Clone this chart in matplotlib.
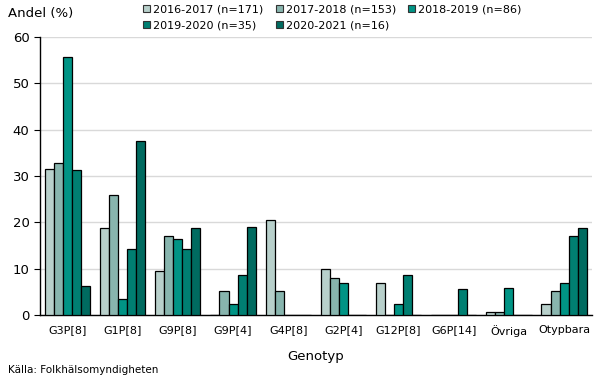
import numpy as np
import matplotlib.pyplot as plt
from matplotlib.patches import Patch

genotyper = ['G3P[8]', 'G1P[8]', 'G9P[8]', 'G9P[4]', 'G4P[8]', 'G2P[4]',
             'G12P[8]', 'G6P[14]', 'Övriga', 'Otypbara']

sasonger = ['2016-2017 (n=171)', '2017-2018 (n=153)', '2018-2019 (n=86)',
            '2019-2020 (n=35)', '2020-2021 (n=16)']

v2016 = [31.6, 18.7, 9.4, 0, 20.4, 9.9, 7.0, 0, 0.6, 2.3]
v2017 = [32.8, 26.0, 17.0, 5.2, 5.2, 7.9, 0, 0, 0.7, 5.2]
v2018 = [55.8, 3.5, 16.3, 2.3, 0, 7.0, 2.3, 0, 5.9, 7.0]
v2019 = [31.4, 14.3, 14.3, 8.6, 0, 0, 8.6, 5.7, 0, 17.1]
v2020 = [6.2, 37.5, 18.8, 19.0, 0, 0, 0, 0, 0, 18.8]

farger = ['#b8d0cb', '#88b5ae', '#009485', '#007f72', '#006b60']

fig = plt.figure(figsize=(6.05, 3.79), dpi=100)
ax = fig.add_axes([0.066, 0.169, 0.912, 0.733])

x = np.arange(len(genotyper))
w = 0.164
serier = [v2016, v2017, v2018, v2019, v2020]
for i, (vals, c) in enumerate(zip(serier, farger)):
    ax.bar(x + (i - 2) * w, vals, width=w, color=c, edgecolor='black',
           linewidth=0.9, zorder=3)

ax.set_xlim(-0.5, len(genotyper) - 0.5)
ax.set_ylim(0, 60)
ax.set_yticks(range(0, 61, 10))
ax.yaxis.grid(True, color='#d9d9d9', linewidth=1, zorder=0)
ax.set_xticks(x)
ax.set_xticklabels(genotyper)
ax.tick_params(axis='x', length=0, labelsize=8, pad=7)
ax.tick_params(axis='y', length=4, labelsize=9.5, direction='out')
for s in ['top', 'right']:
    ax.spines[s].set_visible(False)
ax.spines['left'].set_linewidth(1)
ax.spines['bottom'].set_linewidth(1)

ax.set_xlabel('Genotyp', fontsize=9.5, labelpad=10)
fig.text(0.013, 0.965, 'Andel (%)', fontsize=9.5, va='center')
fig.text(0.013, 0.025, 'Källa: Folkhälsomyndigheten', fontsize=7.5, va='center')

# radvis ordning i legenden (matplotlib fyller kolumnvis)
ordning = [0, 3, 1, 4, 2]
handles = [Patch(facecolor=farger[k], edgecolor='#333333', linewidth=0.8) for k in ordning]
etiketter = [sasonger[k] for k in ordning]
fig.legend(handles, etiketter, loc='upper left', bbox_to_anchor=(0.22, 1.015),
           ncol=3, frameon=False, fontsize=8, handlelength=0.65, handleheight=0.65,
           handletextpad=0.25, columnspacing=1.1, labelspacing=0.55)

fig.savefig('out.png', dpi=100)
